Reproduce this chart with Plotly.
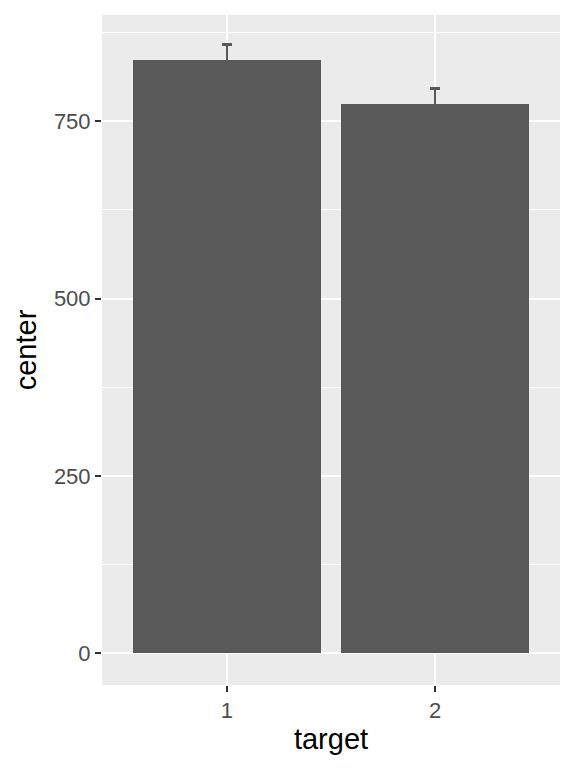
import plotly.graph_objects as go

# data
target = ["1", "2"]
center = [836, 775]
err = [22, 21]

fig = go.Figure()
# error bars first (invisible bars), so the real bars hide the lower half like ggplot
fig.add_trace(go.Bar(
    x=[1, 2],
    y=center,
    width=0.9,
    marker=dict(color="rgba(0,0,0,0)", line=dict(width=0)),
    error_y=dict(type="data", array=err, color="#595959", thickness=2.6, width=5),
    hoverinfo="skip",
))
fig.add_trace(go.Bar(
    x=[1, 2],
    y=center,
    width=0.9,
    marker=dict(color="#595959", line=dict(width=0)),
))

# the page body has an 8px margin, so margins are shifted to keep the panel in place
fig.update_layout(
    width=576, height=768,
    margin=dict(l=94, r=24, t=7, b=91),
    paper_bgcolor="white",
    plot_bgcolor="#EBEBEB",
    font=dict(family="Liberation Sans, Arial, sans-serif", color="#4D4D4D"),
    showlegend=False,
    barmode="overlay",
    bargap=0,
)
fig.update_xaxes(
    range=[0.4, 2.6],
    tickvals=[1, 2], ticktext=target,
    showgrid=True, gridcolor="white", gridwidth=2,
    zeroline=False,
    ticks="outside", ticklen=6, tickwidth=2, tickcolor="#333333",
    tickfont=dict(size=22, color="#4D4D4D"),
    title=dict(text="target", font=dict(size=29, color="black"), standoff=6),
)
fig.update_yaxes(
    range=[-45, 900],
    tickvals=[0, 250, 500, 750],
    showgrid=True, gridcolor="white", gridwidth=2,
    minor=dict(tickvals=[125, 375, 625, 875], showgrid=True,
               gridcolor="white", gridwidth=1, ticks=""),
    zeroline=False,
    ticks="outside", ticklen=6, tickwidth=2, tickcolor="#333333",
    tickfont=dict(size=22, color="#4D4D4D"),
    title=dict(text="center", font=dict(size=29, color="black"), standoff=8),
)

fig.write_html("out.html")
